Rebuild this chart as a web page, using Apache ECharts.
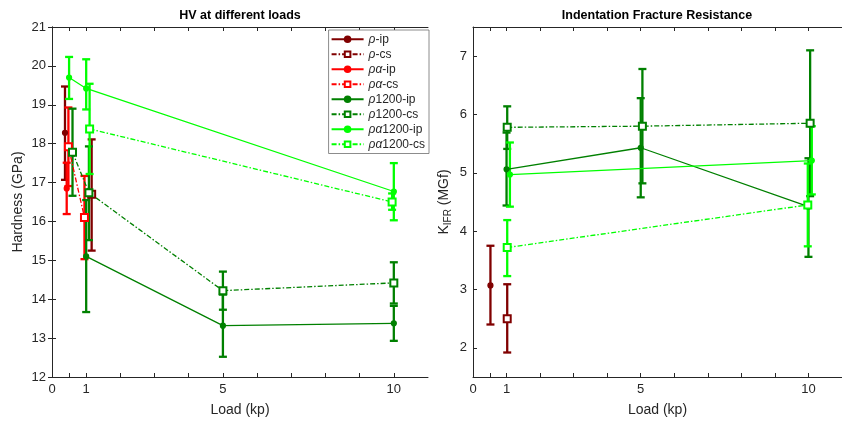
<!DOCTYPE html>
<html>
<head>
<meta charset="utf-8">
<title>HV / IFR</title>
<script src="https://cdn.jsdelivr.net/npm/echarts@6/dist/echarts.min.js"></script>
<style>
  html, body { margin: 0; padding: 0; background: #fff; }
  #chart { width: 842px; height: 423px; }
</style>
</head>
<body>
<div id="chart"></div>
<script>
// each point: [load, value, lower, upper]
// HV at different loads (GPa)
var hvRhoIp = [[0.38, 18.28, 17.07, 19.47]];
var hvRhoCs = [[1.16, 16.70, 15.25, 18.11]];
var hvRhoAlphaIp = [[0.43, 16.85, 16.19, 17.51]];
var hvRhoAlphaCs = [[0.48, 17.92, 16.91, 18.93], [0.95, 16.10, 15.03, 17.17]];
var hvRho1200Ip = [[1.0, 15.10, 13.67, 16.55], [5.0, 13.32, 12.52, 14.12], [10.0, 13.38, 12.93, 13.83]];
var hvRho1200Cs = [[0.6, 17.78, 16.66, 18.90], [1.08, 16.74, 15.52, 17.93], [5.0, 14.22, 13.73, 14.71], [10.0, 14.42, 13.89, 14.95]];
var hvRhoAlpha1200Ip = [[0.5, 19.70, 19.15, 20.23], [1.0, 19.42, 18.88, 20.17], [10.0, 16.77, 16.03, 17.50]];
var hvRhoAlpha1200Cs = [[1.1, 18.38, 17.22, 19.54], [9.95, 16.50, 16.30, 16.72]];

// Indentation fracture resistance (MGf)
var ifrRhoIp = [[0.52, 3.07, 2.40, 3.75]];
var ifrRhoCs = [[1.02, 2.50, 1.92, 3.09]];
var ifrRho1200Ip = [[1.0, 5.06, 4.44, 5.69], [5.0, 5.43, 4.58, 6.28], [10.0, 4.42, 3.56, 5.25]];
var ifrRho1200Cs = [[1.02, 5.78, 5.41, 6.14], [5.05, 5.80, 4.82, 6.78], [10.05, 5.85, 4.60, 7.10]];
var ifrRhoAlpha1200Ip = [[1.1, 4.97, 4.42, 5.52], [10.1, 5.21, 4.63, 5.80]];
var ifrRhoAlpha1200Cs = [[1.02, 3.72, 3.23, 4.19], [9.98, 4.45, 3.74, 5.16]];

var seriesNames = ['ρ-ip', 'ρ-cs', 'ρα-ip', 'ρα-cs', 'ρ1200-ip', 'ρ1200-cs', 'ρα1200-ip', 'ρα1200-cs'];
var loadTicks = [0.5, 1, 2, 3, 4, 5, 6, 7, 8, 9, 10];
var loadLabels = [0, 1, 5, 10];
var hvTicks = [12, 13, 14, 15, 16, 17, 18, 19, 20, 21];
var ifrTicks = [2, 3, 4, 5, 6, 7];

var FONT = 'Helvetica, Arial, "Liberation Sans", sans-serif';
var INK = '#262626';
var colors = {
  'ρ-ip': '#800000', 'ρ-cs': '#800000',
  'ρα-ip': '#ff0000', 'ρα-cs': '#ff0000',
  'ρ1200-ip': '#008000', 'ρ1200-cs': '#008000',
  'ρα1200-ip': '#00ff00', 'ρα1200-cs': '#00ff00'
};

var chart = echarts.init(document.getElementById('chart'));

// vertical bar with caps from lower to upper
function errSeries(pts, color, xi, yi) {
  return {
    type: 'custom',
    xAxisIndex: xi, yAxisIndex: yi,
    silent: true,
    data: pts.map(function (p) { return [p[0], p[2], p[3]]; }),
    encode: { x: 0, y: [1, 2] },
    renderItem: function (params, api) {
      var top = api.coord([api.value(0), api.value(2)]);
      var bot = api.coord([api.value(0), api.value(1)]);
      var st = { stroke: color, lineWidth: 2.3 };
      return {
        type: 'group',
        children: [
          { type: 'line', shape: { x1: top[0], y1: top[1], x2: bot[0], y2: bot[1] }, style: st },
          { type: 'line', shape: { x1: top[0] - 4, y1: top[1], x2: top[0] + 4, y2: top[1] }, style: st },
          { type: 'line', shape: { x1: bot[0] - 4, y1: bot[1], x2: bot[0] + 4, y2: bot[1] }, style: st }
        ]
      };
    }
  };
}

function lineSeries(name, pts, xi, yi) {
  var color = colors[name];
  var cs = /cs$/.test(name);
  return {
    type: 'line',
    name: name,
    xAxisIndex: xi, yAxisIndex: yi,
    data: pts.map(function (p) { return [p[0], p[1]]; }),
    symbol: cs ? 'emptyRect' : 'circle',
    symbolSize: cs ? 7 : 5,
    showSymbol: true,
    lineStyle: { color: color, width: 1.3, type: cs ? [5, 2, 1.5, 2] : 'solid' },
    itemStyle: { color: color, borderColor: color, borderWidth: 1.2 },
    emphasis: { disabled: true }
  };
}

var series = [];
function add(name, pts, xi, yi) {
  series.push(errSeries(pts, colors[name], xi, yi));
  series.push(lineSeries(name, pts, xi, yi));
}
add('ρ-ip', hvRhoIp, 0, 0);
add('ρ-cs', hvRhoCs, 0, 0);
add('ρα-ip', hvRhoAlphaIp, 0, 0);
add('ρα-cs', hvRhoAlphaCs, 0, 0);
add('ρ1200-ip', hvRho1200Ip, 0, 0);
add('ρ1200-cs', hvRho1200Cs, 0, 0);
add('ρα1200-ip', hvRhoAlpha1200Ip, 0, 0);
add('ρα1200-cs', hvRhoAlpha1200Cs, 0, 0);

add('ρ-ip', ifrRhoIp, 1, 1);
add('ρ-cs', ifrRhoCs, 1, 1);
add('ρ1200-ip', ifrRho1200Ip, 1, 1);
add('ρ1200-cs', ifrRho1200Cs, 1, 1);
add('ρα1200-ip', ifrRhoAlpha1200Ip, 1, 1);
add('ρα1200-cs', ifrRhoAlpha1200Cs, 1, 1);

var axLine = { show: true, lineStyle: { color: INK, width: 1 } };
var tickIn = function (vals) {
  return { show: true, inside: true, length: 4, customValues: vals, lineStyle: { color: INK, width: 1 } };
};
var lblStyle = { color: INK, fontSize: 13, fontFamily: FONT };

function xBottom(gi) {
  return {
    type: 'value', gridIndex: gi, min: 0, max: 11, position: 'bottom',
    axisLine: axLine, axisTick: tickIn(loadTicks), splitLine: { show: false },
    axisLabel: Object.assign({ customValues: loadLabels, margin: 6 }, lblStyle),
    name: 'Load (kp)', nameLocation: 'middle', nameGap: 26,
    nameTextStyle: { color: INK, fontSize: 14, fontFamily: FONT }
  };
}
function xTop(gi) {
  return {
    type: 'value', gridIndex: gi, min: 0, max: 11, position: 'top',
    axisLine: axLine, axisTick: tickIn(loadTicks), splitLine: { show: false },
    axisLabel: { show: false }
  };
}

var option = {
  animation: false,
  backgroundColor: '#fff',
  textStyle: { fontFamily: FONT },
  grid: [
    { left: 52, right: 414, top: 27, bottom: 46 },
    { left: 473, right: -6, top: 27, bottom: 46 }
  ],
  xAxis: [xBottom(0), xBottom(1), xTop(0), xTop(1)],
  yAxis: [
    {
      type: 'value', gridIndex: 0, min: 12, max: 21,
      axisLine: axLine, axisTick: tickIn(hvTicks), splitLine: { show: false },
      axisLabel: Object.assign({ customValues: hvTicks, margin: 6 }, lblStyle),
      name: 'Hardness (GPa)', nameLocation: 'middle', nameGap: 27,
      nameTextStyle: { color: INK, fontSize: 14, fontFamily: FONT }
    },
    {
      type: 'value', gridIndex: 1, min: 1.5, max: 7.5,
      axisLine: axLine, axisTick: tickIn(ifrTicks), splitLine: { show: false },
      axisLabel: Object.assign({ customValues: ifrTicks, margin: 6 }, lblStyle),
      name: 'K{sub|IFR} (MGf)', nameLocation: 'middle', nameGap: 20,
      nameTextStyle: {
        color: INK, fontSize: 14, fontFamily: FONT,
        rich: { sub: { fontSize: 10, color: INK, fontFamily: FONT, verticalAlign: 'bottom', padding: [8, 0, 0, 0] } }
      }
    },
    {
      type: 'value', gridIndex: 0, min: 12, max: 21, position: 'right',
      axisLine: axLine, axisTick: tickIn(hvTicks), splitLine: { show: false },
      axisLabel: { show: false }
    }
  ],
  legend: {
    data: seriesNames,
    orient: 'vertical',
    right: 413, top: 30,
    itemWidth: 32, itemHeight: 7, itemGap: 2.5,
    padding: [3, 4, 3, 2],
    borderColor: '#6e6e6e', borderWidth: 0.8,
    backgroundColor: '#fff',
    selectedMode: false,
    formatter: function (n) { return n.replace(/^(ρα?)/, '{g|$1}'); },
    textStyle: {
      color: INK, fontSize: 12, fontFamily: FONT, lineHeight: 12.5,
      rich: { g: { fontStyle: 'italic', fontSize: 12, fontFamily: FONT, color: INK } }
    }
  },
  graphic: [
    { type: 'text', x: 240, y: 16, style: { text: 'HV at different loads', fill: '#000', font: 'bold 12.5px ' + FONT, textAlign: 'center', textVerticalAlign: 'middle' } },
    { type: 'text', x: 657, y: 16, style: { text: 'Indentation Fracture Resistance', fill: '#000', font: 'bold 12.5px ' + FONT, textAlign: 'center', textVerticalAlign: 'middle' } }
  ],
  series: series
};
chart.setOption(option);
</script>
</body>
</html>
